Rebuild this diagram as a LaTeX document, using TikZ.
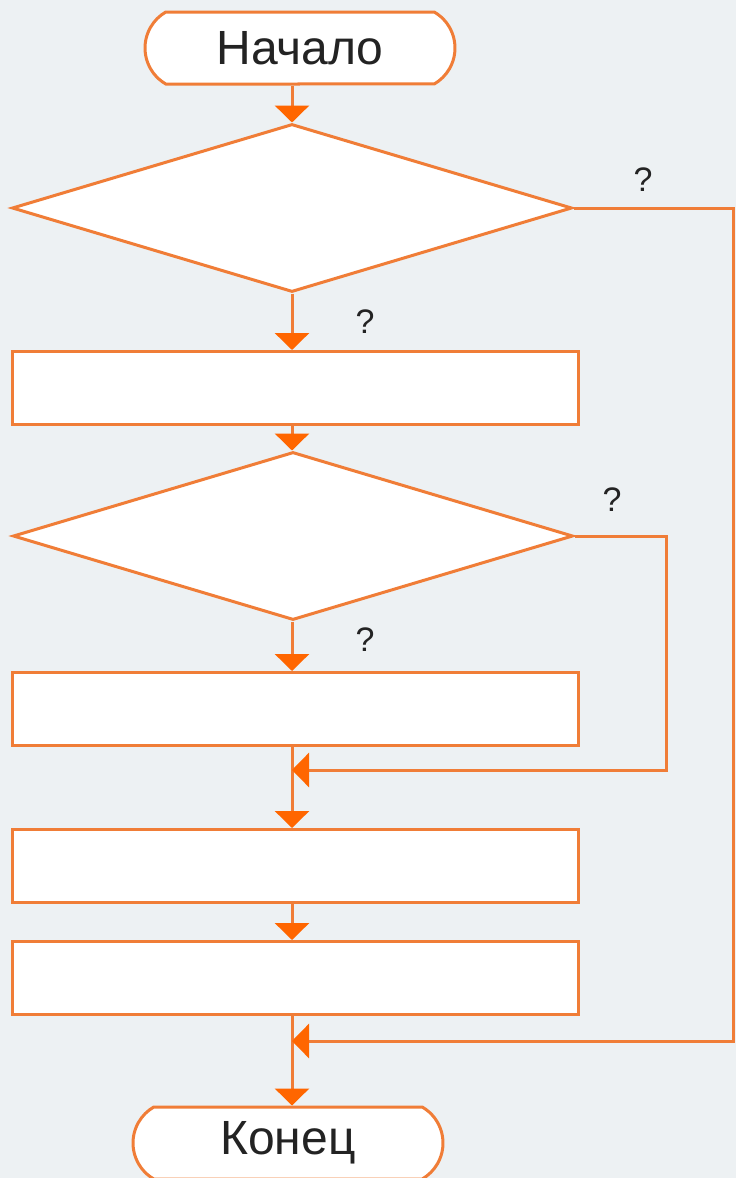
\documentclass[tikz,border=0pt]{standalone}
\usepackage{fontspec}
\setmainfont{Liberation Sans}
\usetikzlibrary{positioning,shapes.geometric,shapes.misc,arrows.meta}
\definecolor{flowline}{RGB}{240,125,55}
\definecolor{flowtip}{RGB}{255,102,0}
\definecolor{bgpaper}{RGB}{237,241,243}
\definecolor{inktext}{RGB}{35,35,35}

\begin{document}
\begin{tikzpicture}[x=1pt, y=-1pt,
		link/.style={line width=3pt, draw=flowline},
		terminal/.style={rounded rectangle, rounded rectangle arc length=120, draw=flowline, fill=white, line width=3pt, minimum width=310pt, minimum height=72pt, inner sep=0pt, text=inktext, font=\fontsize{48}{52}\selectfont},
		decision/.style={diamond, draw=flowline, fill=white, line width=3pt, minimum width=560pt, minimum height=168pt, inner sep=0pt},
		process/.style={rectangle, draw=flowline, fill=white, line width=3pt, minimum width=566pt, minimum height=73pt, inner sep=0pt},
		qmark/.style={text=inktext, font=\fontsize{34}{36}\selectfont, inner sep=0pt},
		flow/.style={link, -{Triangle[width=34pt,length=17pt,fill=flowtip,color=flowtip]}}]
		\fill[bgpaper] (0,0) rectangle (736,1178);
		\useasboundingbox (0,0) rectangle (736,1178);
		
		\node[terminal] (start) at (300,48) {Начало};
		\node[decision] (d1) at (292,208) {};
		\node[process] (r1) at (295,388) {};
		\node[decision] (d2) at (293,536) {};
		\node[process] (r2) at (295,709) {};
		\node[process] (r3) at (295,866) {};
		\node[process] (r4) at (295,978) {};
		\node[terminal] (finish) at (288,1143) {Конец};
		
		\coordinate (j1) at (292,770);
		\coordinate (j2) at (292,1041);
		\coordinate (c1) at (733,208);
		\coordinate (c2) at (666,536);
		
		\node[qmark] (q1) at (643,180) {?};
		\node[qmark] (q2) at (365,322) {?};
		\node[qmark] (q3) at (612,500) {?};
		\node[qmark] (q4) at (365,640) {?};
		
		\draw[flow] (start.south -| d1.north) -- (d1.north);
		\draw[flow] (d1.south) -- (r1.north -| d1.south);
		\draw[flow] (r1.south -| d1.south) -- (d1.south |- d2.north);
		\draw[flow] (d1.south |- d2.south) -- (d1.south |- r2.north);
		\draw[link] (d1.south |- r2.south) -- (j1);
		\draw[flow] (j1) -- (d1.south |- r3.north);
		\draw[flow] (d1.south |- r3.south) -- (d1.south |- r4.north);
		\draw[link] (d1.south |- r4.south) -- (j2);
		\draw[flow] (j2) -- (d1.south |- finish.north);
		
		\draw[flow] (d1.east) -- (c1) -- (c1 |- j2) -- (j2);
		\draw[flow] (d2.east) -- (c2) -- (c2 |- j1) -- (j1);
	\end{tikzpicture}
\end{document}
